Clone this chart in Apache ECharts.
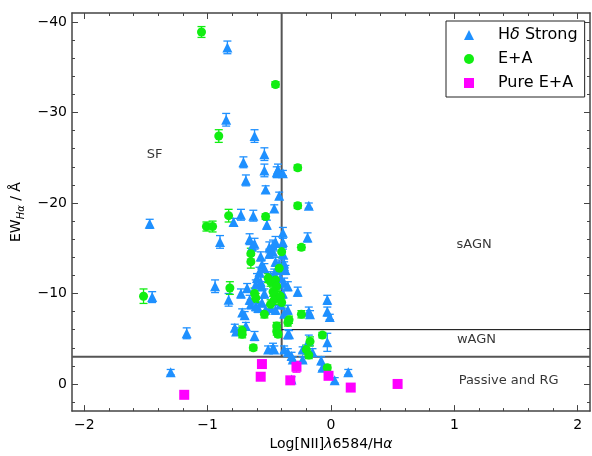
<!DOCTYPE html>
<html>
<head>
<meta charset="utf-8">
<script src="https://cdn.jsdelivr.net/npm/echarts@6/dist/echarts.min.js"></script>
<style>
  html, body { margin: 0; padding: 0; background: #fff; }
  #chart { width: 592px; height: 456px; }
</style>
</head>
<body>
<div id="chart"></div>
<script>
// [log NII/Ha, EW(Ha), error]
const hdStrong = [
  [-0.84, -37.2, 0.7], [-0.85, -29.2, 0.7], [-0.62, -27.4, 0.7], [-0.71, -24.5, 0.6],
  [-0.69, -22.5, 0.6], [-0.54, -25.4, 0.7], [-0.54, -23.6, 0.7], [-0.53, -21.5, 0.4],
  [-0.44, -23.4, 0.6], [-0.43, -23.7, 0.6], [-0.39, -23.3, 0.3], [-0.42, -20.8, 0.4],
  [-0.46, -19.4, 0.4], [-0.18, -19.7, 0.3], [-1.47, -17.7, 0.5], [-1.45, -9.6, 0.6],
  [-1.17, -5.6, 0.6], [-1.30, -1.3, 0.3], [-0.90, -15.7, 0.7], [-0.94, -10.8, 0.7],
  [-0.73, -18.7, 0.6], [-0.79, -17.9, 0.4], [-0.63, -18.6, 0.6], [-0.52, -17.6, 0.5],
  [-0.39, -16.7, 0.6], [-0.39, -15.7, 0.6], [-0.39, -14.4, 0.5], [-0.38, -13.0, 0.5],
  [-0.19, -16.2, 0.5], [-0.66, -16.0, 0.6], [-0.62, -15.5, 0.6], [-0.64, -15.2, 0.5],
  [-0.50, -15.1, 0.6], [-0.47, -15.3, 0.6], [-0.45, -15.7, 0.6], [-0.57, -14.1, 0.5],
  [-0.50, -14.4, 0.5], [-0.47, -14.6, 0.4], [-0.56, -13.2, 0.5], [-0.54, -12.8, 0.5],
  [-0.58, -12.4, 0.5], [-0.45, -13.5, 0.5], [-0.42, -13.2, 0.5], [-0.43, -12.6, 0.5],
  [-0.46, -12.2, 0.5], [-0.38, -13.3, 0.5], [-0.37, -12.6, 0.5], [-0.49, -11.9, 0.5],
  [-0.60, -11.7, 0.5], [-0.57, -11.3, 0.5], [-0.61, -11.0, 0.5], [-0.56, -10.8, 0.5],
  [-0.54, -10.0, 0.5], [-0.41, -11.7, 0.5], [-0.38, -11.2, 0.5], [-0.35, -10.8, 0.5],
  [-0.39, -10.0, 0.5], [-0.83, -9.3, 0.7], [-0.73, -10.0, 0.5], [-0.68, -10.6, 0.5],
  [-0.66, -9.3, 0.5], [-0.65, -8.8, 0.5], [-0.61, -8.6, 0.5], [-0.56, -9.0, 0.5],
  [-0.59, -8.4, 0.5], [-0.53, -8.2, 0.5], [-0.49, -8.4, 0.5], [-0.45, -8.2, 0.5],
  [-0.41, -8.8, 0.5], [-0.38, -7.8, 0.5], [-0.35, -8.2, 0.5], [-0.72, -7.9, 0.4],
  [-0.70, -7.6, 0.4], [-0.78, -6.2, 0.4], [-0.77, -5.8, 0.4], [-0.69, -6.4, 0.4],
  [-0.62, -5.3, 0.5], [-0.51, -3.8, 0.4], [-0.47, -4.0, 0.5], [-0.46, -3.8, 0.4],
  [-0.35, -5.5, 0.5], [-0.38, -3.8, 0.4], [-0.35, -3.5, 0.4], [-0.32, -3.1, 0.4],
  [-0.31, -2.7, 0.3], [-0.27, -10.2, 0.5], [-0.03, -9.3, 0.5], [-0.03, -8.0, 0.5],
  [-0.01, -7.4, 0.3], [-0.18, -8.0, 0.5], [-0.17, -7.7, 0.4], [-0.03, -4.6, 1.0],
  [-0.18, -4.8, 0.6], [-0.15, -3.5, 0.4], [-0.23, -3.8, 0.3], [-0.23, -2.7, 0.3],
  [-0.08, -2.6, 0.4], [-0.07, -1.8, 0.3], [0.03, -0.4, 0.3], [0.14, -1.3, 0.3],
  [-0.32, -0.5, 0.3], [-0.34, -5.5, 0.4]
];

const ePlusA = [
  [-1.05, -38.9, 0.6], [-0.45, -33.1, 0.3], [-0.91, -27.4, 0.7], [-0.27, -23.9, 0.3],
  [-0.27, -19.7, 0.3], [-1.52, -9.7, 0.8], [-1.01, -17.4, 0.5], [-0.96, -17.4, 0.6],
  [-0.83, -18.6, 0.7], [-0.53, -18.5, 0.3], [-0.24, -15.1, 0.3], [-0.65, -14.4, 0.6],
  [-0.65, -13.5, 0.7], [-0.40, -14.6, 0.6], [-0.82, -10.6, 0.7], [-0.62, -10.0, 0.6],
  [-0.61, -9.5, 0.5], [-0.51, -11.7, 0.5], [-0.49, -11.3, 0.5], [-0.45, -11.5, 0.6],
  [-0.44, -10.8, 0.5], [-0.47, -10.2, 0.5], [-0.46, -9.9, 0.5], [-0.42, -12.8, 0.5],
  [-0.46, -9.3, 0.5], [-0.41, -9.7, 0.5], [-0.40, -9.0, 0.5], [-0.49, -8.8, 0.5],
  [-0.54, -7.7, 0.4], [-0.24, -7.7, 0.4], [-0.72, -5.9, 0.5], [-0.72, -5.5, 0.4],
  [-0.63, -4.0, 0.3], [-0.44, -6.4, 0.4], [-0.44, -5.8, 0.4], [-0.43, -5.5, 0.3],
  [-0.35, -6.8, 0.4], [-0.34, -7.1, 0.4], [-0.07, -5.4, 0.3], [-0.17, -4.7, 0.5],
  [-0.20, -3.8, 0.5], [-0.18, -3.2, 0.4], [-0.03, -1.8, 0.3]
];

const pureEA = [
  [-1.19, 1.2, 0.3], [-0.56, -2.2, 0.3], [-0.57, -0.8, 0.3], [-0.33, -0.4, 0.3],
  [-0.28, -1.9, 0.6], [-0.02, -0.9, 0.3], [0.16, 0.4, 0.3], [0.54, 0.0, 0.2]
];

const seriesNames = ['Hδ Strong', 'E+A', 'Pure E+A'];

// class boundaries
const lineSFVertical = [[-0.4, -41], [-0.4, -3]];
const linePassive = [[-2.1, -3], [2.1, -3]];
const lineWeak = [[-0.4, -6], [2.1, -6]];

const regionLabels = [
  { name: 'SF', value: [-1.43, -25.4] },
  { name: 'sAGN', value: [1.16, -15.4] },
  { name: 'wAGN', value: [1.18, -4.9] },
  { name: 'Passive and RG', value: [1.44, -0.4] }
];

const xMajor = [-2, -1, 0, 1, 2];
const xMinor = [];
for (let i = -20; i <= 20; i += 2) xMinor.push(i / 10);
const yMajor = [-40, -30, -20, -10, 0];
const yMinor = [];
for (let v = -40; v <= 2; v += 2) yMinor.push(v);

const font = 'DejaVu Sans';
const frame = '#444';
const minus = v => String(v).replace('-', '\u2212');

function xAxisDef(position, ticks, len, main) {
  return {
    type: 'value', position: position, min: -2.1, max: 2.1,
    axisLine: { show: main, onZero: false, lineStyle: { color: frame, width: 1.5 } },
    axisTick: { customValues: ticks, inside: true, length: len, lineStyle: { color: frame, width: 1 } },
    axisLabel: { show: main && position === 'bottom', customValues: xMajor, formatter: minus,
      fontFamily: font, fontSize: 14, color: '#000', margin: 7 },
    splitLine: { show: false }
  };
}

function yAxisDef(position, ticks, len, main) {
  return {
    type: 'value', position: position, min: -41, max: 3, inverse: true,
    axisLine: { show: main, onZero: false, lineStyle: { color: frame, width: 1.5 } },
    axisTick: { customValues: ticks, inside: true, length: len, lineStyle: { color: frame, width: 1 } },
    axisLabel: { show: main && position === 'left', customValues: yMajor, formatter: minus,
      fontFamily: font, fontSize: 14, color: '#000', margin: 5 },
    splitLine: { show: false }
  };
}

function errorBars(rows, color) {
  return {
    type: 'custom', silent: true, clip: true,
    encode: { x: 0, y: 1 },
    data: rows,
    renderItem: function (params, api) {
      const x = api.value(0), y = api.value(1), e = api.value(2);
      const lo = api.coord([x, y - e]);
      const hi = api.coord([x, y + e]);
      const cap = 4;
      const st = { stroke: color, lineWidth: 1.3 };
      return {
        type: 'group',
        children: [
          { type: 'line', shape: { x1: lo[0], y1: lo[1], x2: hi[0], y2: hi[1] }, style: st },
          { type: 'line', shape: { x1: lo[0] - cap, y1: lo[1], x2: lo[0] + cap, y2: lo[1] }, style: st },
          { type: 'line', shape: { x1: hi[0] - cap, y1: hi[1], x2: hi[0] + cap, y2: hi[1] }, style: st }
        ]
      };
    }
  };
}

function boundary(points, color, width) {
  return {
    type: 'line', data: points, symbol: 'none', silent: true,
    lineStyle: { color: color, width: width }, z: 1
  };
}

const blue = '#1e90ff';
const green = '#11ee11';
const pink = '#ff00ff';

const chart = echarts.init(document.getElementById('chart'));
const xMain = xAxisDef('bottom', xMajor, 6, true);
xMain.name = 'Log[NII]{i|λ}6584/H{i|α}';
xMain.nameLocation = 'middle';
xMain.nameGap = 25;
xMain.nameTextStyle = { fontFamily: font, fontSize: 14, color: '#000',
  rich: { i: { fontFamily: font, fontSize: 14, fontStyle: 'italic', color: '#000' } } };
const yMain = yAxisDef('left', yMajor, 6, true);
yMain.name = 'EW{sub|Hα} / Å';
yMain.nameLocation = 'middle';
yMain.nameRotate = 90;
yMain.nameGap = 45;
yMain.nameTextStyle = { fontFamily: font, fontSize: 14, color: '#000',
  rich: { sub: { fontFamily: font, fontSize: 10, fontStyle: 'italic', color: '#000', padding: [10, 0, 0, 0] } } };

chart.setOption({
  animation: false,
  backgroundColor: '#fff',
  grid: { left: 72, top: 13, width: 518, height: 401 },
  legend: {
    orient: 'vertical', left: 446, top: 21,
    data: [
      { name: seriesNames[0], icon: 'triangle' },
      { name: seriesNames[1], icon: 'circle' },
      { name: seriesNames[2], icon: 'rect' }
    ],
    itemWidth: 10, itemHeight: 10, itemGap: 8,
    padding: [6, 7, 6, 18],
    backgroundColor: '#fff', borderColor: '#222', borderWidth: 1, borderRadius: 0,
    formatter: n => n === 'Hδ Strong' ? 'H{it|δ} Strong' : n,
    textStyle: {
      fontFamily: font, fontSize: 16, color: '#000', lineHeight: 16, padding: [0, 0, 0, 19],
      rich: { it: { fontFamily: font, fontSize: 16, fontStyle: 'italic', color: '#000' } }
    }
  },
  xAxis: [xMain, xAxisDef('top', xMajor, 6, true), xAxisDef('bottom', xMinor, 3, false), xAxisDef('top', xMinor, 3, false)],
  yAxis: [yMain, yAxisDef('right', yMajor, 6, true), yAxisDef('left', yMinor, 3, false), yAxisDef('right', yMinor, 3, false)],
  series: [
    boundary(lineSFVertical, '#555', 2),
    boundary(linePassive, '#555', 2),
    boundary(lineWeak, '#000', 1),
    errorBars(hdStrong, blue),
    { name: seriesNames[0], type: 'scatter', symbol: 'triangle', symbolSize: 10,
      encode: { x: 0, y: 1 }, data: hdStrong, itemStyle: { color: blue, opacity: 1 } },
    errorBars(ePlusA, green),
    { name: seriesNames[1], type: 'scatter', symbol: 'circle', symbolSize: 9,
      encode: { x: 0, y: 1 }, data: ePlusA, itemStyle: { color: green, opacity: 1 } },
    errorBars(pureEA, pink),
    { name: seriesNames[2], type: 'scatter', symbol: 'rect', symbolSize: 10,
      encode: { x: 0, y: 1 }, data: pureEA, itemStyle: { color: pink, opacity: 1 } },
    { type: 'scatter', symbolSize: 0, silent: true, data: regionLabels,
      label: { show: true, position: 'inside', formatter: '{b}', fontFamily: font, fontSize: 13,
        color: '#000', textBorderWidth: 0 } }
  ]
});
</script>
</body>
</html>
